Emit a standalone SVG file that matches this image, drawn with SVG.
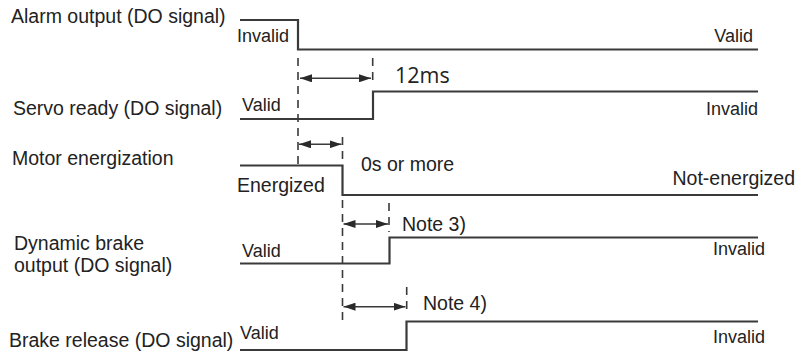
<svg xmlns="http://www.w3.org/2000/svg" width="797" height="355" viewBox="0 0 797 355">
  <style>
    .lbl { font-family: "Liberation Sans", Arial, sans-serif; font-size: 19.5px; fill: #222; }
    .st { font-family: "Liberation Sans", Arial, sans-serif; font-size: 18px; fill: #222; }
    .ms { font-family: "Open Sans", "DejaVu Sans", sans-serif; font-size: 21.5px; fill: #222; }
    .sig { fill: none; stroke: #3a3a3a; stroke-width: 2.2; }
    .dash { fill: none; stroke: #3a3a3a; stroke-width: 1.6; stroke-dasharray: 8 6; }
    .arr { fill: none; stroke: #3a3a3a; stroke-width: 1.6; marker-start: url(#ah); marker-end: url(#ah); }
  </style>
  <defs>
    <marker id="ah" viewBox="0 0 12 8" refX="12" refY="4" markerWidth="12" markerHeight="8" markerUnits="userSpaceOnUse" orient="auto-start-reverse">
      <path d="M0,0 L12,4 L0,8 z" fill="#2a2a2a"/>
    </marker>
  </defs>
  <rect width="797" height="355" fill="#ffffff"/>

  <g id="alarm-output">
    <text class="lbl" x="11" y="22.5">Alarm output (DO signal)</text>
    <path class="sig" d="M240,20 H298 V49.5 H758"/>
    <text class="st" x="237" y="42">Invalid</text>
    <text class="st" x="753" y="42" text-anchor="end">Valid</text>
  </g>

  <g id="servo-ready">
    <text class="lbl" x="13" y="115">Servo ready (DO signal)</text>
    <path class="sig" d="M240,119 H373 V91.5 H758"/>
    <text class="st" x="242" y="111">Valid</text>
    <text class="st" x="758" y="115" text-anchor="end">Invalid</text>
  </g>

  <g id="motor-energization">
    <text class="lbl" x="12" y="165">Motor energization</text>
    <path class="sig" d="M240,165.5 H342.5 V195 H758"/>
    <text class="lbl" x="237" y="191.5">Energized</text>
    <text class="lbl" x="795" y="185" text-anchor="end">Not-energized</text>
  </g>

  <g id="dynamic-brake">
    <text class="lbl" x="14" y="250">Dynamic brake</text>
    <text class="lbl" x="14" y="271.5">output (DO signal)</text>
    <path class="sig" d="M240,263.5 H389.5 V237.5 H758"/>
    <text class="st" x="242" y="256.5">Valid</text>
    <text class="st" x="765" y="255" text-anchor="end">Invalid</text>
  </g>

  <g id="brake-release">
    <text class="lbl" x="9" y="346.5">Brake release (DO signal)</text>
    <path class="sig" d="M240,350 H406.5 V321.5 H758"/>
    <text class="st" x="240" y="339">Valid</text>
    <text class="st" x="765" y="343" text-anchor="end">Invalid</text>
  </g>

  <g id="connectors">
    <line class="dash" x1="298" y1="58" x2="298" y2="165"/>
    <line class="dash" x1="372.7" y1="58" x2="372.7" y2="86"/>
    <line class="dash" x1="342.5" y1="137" x2="342.5" y2="165"/>
    <line class="dash" x1="342.5" y1="200" x2="342.5" y2="322"/>
    <line class="dash" x1="389" y1="203" x2="389" y2="232"/>
    <line class="dash" x1="406.7" y1="287" x2="406.7" y2="315"/>
    <line class="arr" x1="300" y1="78.3" x2="371" y2="78.3"/>
    <line class="arr" x1="299" y1="144.3" x2="341.5" y2="144.3"/>
    <line class="arr" x1="343.5" y1="224" x2="388" y2="224"/>
    <line class="arr" x1="343.5" y1="306.7" x2="405.5" y2="306.7"/>
    <text class="ms" x="395" y="82.5">12ms</text>
    <text class="lbl" x="361" y="171">0s or more</text>
    <text class="lbl" x="402" y="231">Note 3)</text>
    <text class="lbl" x="423" y="310">Note 4)</text>
  </g>
</svg>
